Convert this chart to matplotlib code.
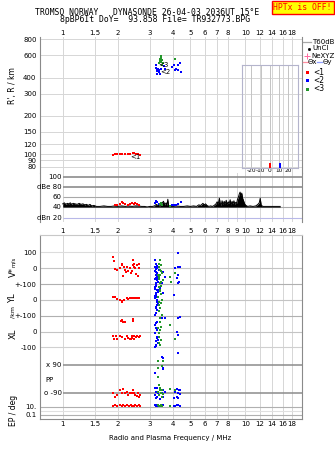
import matplotlib
matplotlib.use('Agg')
import matplotlib.pyplot as plt
import matplotlib.ticker as mticker
from matplotlib.lines import Line2D
from matplotlib.patches import Rectangle
import numpy as np

W, H = 335, 451

freq_ticks = [1, 1.5, 2, 3, 4, 5, 6, 7, 8, 10, 12, 14, 16, 18]
freq_ticks_mid = [1, 1.5, 2, 3, 4, 5, 6, 7, 8, 9, 10, 12, 14, 16, 18]
height_ticks = [800, 600, 400, 300, 200, 150, 120, 100, 90, 80]
dbe_ticks = [100, 80, 60, 40, 20]
dbe_labels = ['100', 'dBe 80', '60', '40', 'dBn 20']
tilt_ticks = [-20, -10, 0, 10, 20]

# echoes in the height panel: frequency (MHz) / virtual height (km)
red_f = [1.89, 1.93, 1.98, 2.05, 2.12, 2.18, 2.27, 2.34, 2.42, 2.47, 2.52, 2.58, 2.65]
red_h = [98, 100, 101, 100, 101, 100, 100, 101, 102, 103, 100, 101, 99]
green_f = [3.40, 3.43, 3.45, 3.42, 3.47, 3.50, 3.52, 3.48, 3.38, 4.10]
green_h = [560, 575, 590, 540, 530, 545, 520, 505, 520, 555]
blue_f = [3.22, 3.25, 3.27, 3.30, 3.33, 3.35, 3.38, 3.42, 3.45, 3.28,
          3.60, 3.65, 3.95, 4.05, 4.15, 4.25, 4.30, 4.40, 4.45, 4.10]
blue_h = [480, 500, 465, 450, 470, 440, 455, 430, 470, 430,
          490, 470, 485, 500, 470, 505, 455, 520, 440, 460]

# amplitude trace
amp_freq = [
    1.00, 1.02, 1.04, 1.06, 1.08, 1.10, 1.12, 1.14, 1.17, 1.20,
    1.23, 1.26, 1.29, 1.32, 1.35, 1.38, 1.41, 1.44, 1.48, 1.53,
    1.60, 1.68, 1.76, 1.84, 1.92, 2.00, 2.10, 2.20, 2.30, 2.40,
    2.50, 2.60, 2.70, 2.80, 2.90, 3.00, 3.10, 3.18, 3.25, 3.32,
    3.40, 3.48, 3.56, 3.62, 3.68, 3.72, 3.76, 3.80, 3.90, 4.05,
    4.20, 4.40, 4.60, 4.80, 5.00, 5.20, 5.40, 5.55, 5.70, 5.85,
    5.95, 6.05, 6.15, 6.30, 6.45, 6.60, 6.75, 6.90, 7.00, 7.10,
    7.20, 7.28, 7.36, 7.45, 7.55, 7.65, 7.75, 7.85, 7.95, 8.05,
    8.15, 8.25, 8.35, 8.45, 8.55, 8.65, 8.75, 8.85, 8.95, 9.05,
    9.15, 9.25, 9.35, 9.45, 9.55, 9.65, 9.75, 9.90, 10.05, 10.3,
    10.6, 11.0, 11.4, 11.7, 11.9, 12.05, 12.2, 12.5, 13.0, 13.5,
    14.0, 14.5, 15.0, 15.5]
amp_db = [
    47, 49, 46, 48, 47, 49, 46, 48, 47, 46,
    48, 46, 47, 45, 46, 44, 46, 43, 44, 42,
    42, 43, 42, 42, 43, 42, 43, 42, 43, 42,
    43, 43, 42, 42, 41, 42, 42, 43, 46, 44,
    43, 47, 52, 45, 49, 44, 56, 42, 42, 42,
    43, 42, 42, 43, 42, 43, 42, 45, 44, 48,
    45, 47, 44, 42, 43, 42, 44, 47, 51, 47,
    58, 48, 44, 53, 46, 52, 47, 54, 46, 51,
    48, 55, 45, 52, 47, 53, 46, 50, 48, 56,
    60, 66, 70, 63, 68, 58, 54, 47, 44, 42,
    43, 42, 43, 46, 49, 58, 44, 42, 42, 42,
    42, 42, 42, 42]
red_amp_f = [1.93, 1.98, 2.05, 2.10, 2.15, 2.20, 2.27, 2.33, 2.40, 2.45, 2.50, 2.56, 2.62]
red_amp = [45, 44, 47, 50, 48, 46, 45, 47, 49, 46, 48, 47, 45]
blue_amp_f = [3.20, 3.25, 3.30, 3.35, 3.95, 4.05, 4.15, 4.30, 4.45]
blue_amp = [48, 52, 50, 46, 44, 45, 45, 46, 50]
green_amp_f = [3.40, 3.45, 3.48, 3.85]
green_amp = [46, 48, 44, 42]

# tilt histogram
tilt_x_deg = [0]
tilt_y_deg = [11]
tilt_count = [4.5]

# V* (m/s)
red_vs_f = [1.89, 1.90, 1.93, 1.98, 2.05, 2.10, 2.12, 2.14, 2.16, 2.18, 2.22, 2.26, 2.28,
            2.33, 2.36, 2.38, 2.41, 2.43, 2.44, 2.47, 2.50, 2.52, 2.54, 2.57, 2.60, 2.63]
red_vs = [70, 45, -5, -10, 0, 30, 20, -50, 10, -10, -25, 10, -15,
          0, -30, -15, 20, 50, 10, 30, 0, -35, 20, -50, 0, 25]
blue_vs_f = [4.30, 3.20, 3.27, 3.30, 3.25, 3.34, 3.56, 3.63, 3.49, 4.30, 4.12,
             4.39, 4.30, 4.21, 4.35, 4.25, 3.22, 3.28, 3.38, 3.24, 3.21, 3.31,
             3.21, 3.23, 3.26, 3.29, 3.22, 3.27, 3.31, 3.24, 3.35, 3.20]
blue_vs = [99, 10, 0, -32, -63, -85, -21, -53, -95, 10, 0,
           10, -42, -63, -85, -95, -40, -75, -10, 30, -20, -50,
           55, -5, -25, 15, -90, -55, -70, -100, -45, -70]
green_vs_f = [3.41, 3.41, 3.49, 3.38, 3.52, 3.45, 3.34, 3.87, 4.12, 3.90, 3.43, 3.47, 3.36,
              3.38, 3.42, 3.40, 3.36]
green_vs = [52, -11, -32, -53, -74, -84, -42, -53, -32, -84, 20, -20, -65,
            10, -40, -90, 30]

# YL (km)
red_yl_f = [1.89, 1.93, 1.98, 2.05, 2.10, 2.12, 2.16, 2.24, 2.28, 2.33, 2.38, 2.43, 2.47, 2.52, 2.57, 2.62]
red_yl = [21, 21, 4, 0, -5, -11, 0, 10, 4, 10, 15, 10, 10, 14, 14, 10]
blue_yl_f = [3.20, 3.27, 3.34, 3.25, 3.20, 3.30, 3.41, 3.56, 3.27, 3.20, 4.04, 3.22, 3.26, 3.30, 3.23, 3.49,
             3.21, 3.24, 3.28, 3.31, 3.22, 3.25, 3.20, 3.33]
blue_yl = [84, 63, 52, 31, 10, -11, 74, 42, -63, -95, 31, 45, 20, -30, -45, 0,
           70, 90, 0, -20, -50, -80, 25, 65]
green_yl_f = [3.41, 3.34, 3.49, 3.38, 3.41, 3.45, 3.38, 3.43, 3.36, 3.40, 3.44, 3.37]
green_yl = [63, 21, 0, -32, -53, 40, -10, 85, 80, 55, -20, -70]

# XL (km)
red_xl_f = [2.08, 2.12, 2.15, 2.18, 2.43, 2.43, 1.89, 1.92, 1.95, 1.98, 2.05, 2.12, 2.20,
            2.24, 2.28, 2.33, 2.36, 2.38, 2.40, 2.44, 2.47, 2.52, 2.55, 2.60, 2.64]
red_xl = [70, 75, 60, 62, 80, 65, -25, -45, -25, -45, -30, -35, -45,
          -30, -40, -45, -48, -30, -40, -25, -45, -35, -25, -35, -30]
blue_xl_f = [3.30, 3.49, 3.63, 4.39, 4.30, 3.20, 3.27, 3.34, 3.25, 4.21, 4.30, 3.20,
             3.34, 3.22, 4.30, 3.49, 3.56, 3.21, 3.24, 3.28, 3.22, 3.26, 3.30]
blue_xl = [63, 84, 84, 94, 84, -11, -32, -53, -85, 0, -21, -95,
           -74, 20, -133, -158, -169, 40, 55, -40, -60, -90, 10]
green_xl_f = [3.49, 3.41, 3.34, 3.41, 3.38, 3.45, 4.12, 3.87, 3.36, 3.39, 3.43, 3.37, 3.41]
green_xl = [105, 84, 21, 10, -32, -53, -48, 42, -70, 60, 30, -10, -85]

# PP (deg)
red_pp_f = [1.89, 1.93, 1.98, 2.05, 2.10, 2.14, 2.18, 2.24, 2.28, 2.33, 2.38, 2.43, 2.47,
            2.50, 2.55, 2.57, 2.62, 2.65]
red_pp = [-90, -111, -100, -70, -86, -64, -90, -79, -100, -90, -86, -70, -90,
          -100, -107, -90, -111, -100]
blue_pp_f = [3.53, 3.20, 3.56, 3.20, 3.27, 3.41, 3.56, 3.25, 3.34, 3.49, 3.20, 3.30, 3.56,
             3.25, 3.41, 3.63, 4.21, 4.35, 4.12, 4.30, 4.39, 4.21, 4.30, 4.04, 4.39]
blue_pp = [62, 37, 68, -54, -58, -64, -69, -79, -86, -90, -100, -111, -111,
           -121, -128, -79, -64, -69, -79, -90, -94, -111, -121, -121, -69]
green_pp_f = [3.34, 3.53, 3.49, 3.34, 3.34, 3.38, 3.41, 3.49, 3.34, 3.45, 3.53, 3.38,
              3.49, 3.41, 3.87, 4.12]
green_pp = [116, 116, 83, 68, 15, -37, -58, -69, -79, -90, -94, -100,
            -111, -72, -64, -69]

# EP (deg)
red_ep_f = [1.89, 1.93, 1.98, 2.05, 2.10, 2.15, 2.20, 2.26, 2.30, 2.35, 2.40, 2.45, 2.50, 2.55, 2.60, 2.65]
red_ep = [16, 20, 16, 18, 16, 20, 16, 18, 16, 20, 17, 16, 20, 16, 18, 16]
blue_ep_f = [3.20, 3.25, 3.30, 3.34, 3.49, 3.56, 4.04, 4.12, 4.21, 4.30, 4.39]
blue_ep = [18, 15, 18, 16, 15, 18, 15, 16, 18, 18, 16]
green_ep_f = [3.34, 3.38, 3.41, 3.45, 3.49, 3.87]
green_ep = [18, 15, 16, 18, 15, 16]

RED = '#ff0000'
BLUE = '#0000ff'
GREEN = '#22962a'
GRID = '#d6d6d6'
SPINE = '#8a8a8a'
F_LIM = (0.751, 20.4)


def box(x0, y0, x1, y1):
    return [x0 / W, 1 - y1 / H, (x1 - x0) / W, (y1 - y0) / H]


def fx(x):
    return x / W


def fy(y):
    return 1 - y / H


# stacked lower panel: each quantity gets its own band of the same axis
def yl_pos(v):
    return np.asarray(v) - 200


def xl_pos(v):
    return np.asarray(v) - 400


def pp_pos(v):
    return np.asarray(v) - 700


def ep_pos(v):
    return -900 + 26.5 * np.log10(np.asarray(v, dtype=float))


def freq_axis(ax, ticks):
    ax.set_xscale('log')
    ax.set_xlim(*F_LIM)
    ax.set_xticks(ticks)
    ax.set_xticklabels(['%g' % t for t in ticks])
    ax.xaxis.set_minor_locator(mticker.NullLocator())
    ax.grid(axis='x', color=GRID, lw=0.7)
    ax.set_axisbelow(True)
    for s in ax.spines.values():
        s.set_color(SPINE)
        s.set_linewidth(0.8)


def dots(ax, x, y, color):
    ax.scatter(x, y, s=4.5, marker='s', color=color, linewidths=0, zorder=3)


fig = plt.figure(figsize=(W / 100, H / 100), dpi=100)
plt.rcParams['font.family'] = ['DejaVu Sans']

# ---- virtual height panel
ax1 = fig.add_axes(box(40, 37, 302, 173))
freq_axis(ax1, freq_ticks)
ax1.set_yscale('log')
ax1.set_ylim(71.4, 833)
ax1.set_yticks(height_ticks)
ax1.set_yticklabels([str(h) for h in height_ticks])
ax1.yaxis.set_minor_locator(mticker.NullLocator())
ax1.grid(axis='y', color=GRID, lw=0.7)
ax1.xaxis.tick_top()
ax1.tick_params(axis='x', length=0, pad=1, labelsize=5)
ax1.tick_params(axis='y', length=0, pad=2.5, labelsize=5)
ax1.spines['top'].set_visible(False)
ax1.spines['bottom'].set_visible(False)
dots(ax1, red_f, red_h, RED)
dots(ax1, blue_f, blue_h, BLUE)
dots(ax1, green_f, green_h, GREEN)
ax1.text(2.5, 95, '<1', fontsize=5, ha='center', va='center', zorder=4)
ax1.text(3.55, 500, '<3', fontsize=5, ha='center', va='center', zorder=4)
ax1.text(3.65, 445, '<2', fontsize=5, ha='center', va='center', zorder=4)

# tilt inset
axt = fig.add_axes(box(241.7, 65, 297.7, 167.7))
axt.patch.set_alpha(0)
axt.set_xlim(-30.6, 30.6)
axt.set_ylim(0, 100)
axt.set_xticks(tilt_ticks)
axt.set_xticklabels(['-20', '-10', '0', '10', '20'])
axt.set_yticks([])
axt.grid(axis='x', color='#c4c4c4', lw=0.7)
axt.tick_params(axis='x', length=0, pad=0.5, labelsize=4.2)
for s in axt.spines.values():
    s.set_color('#b4b4cc')
    s.set_linewidth(0.8)
axt.bar(tilt_x_deg, tilt_count, width=2, color=RED, bottom=0, zorder=3)
axt.bar(tilt_y_deg, tilt_count, width=2, color=BLUE, bottom=0, zorder=3)
axt.set_xlabel('Tilt / deg', fontsize=4.2, labelpad=0)

# ---- amplitude panel
ax2 = fig.add_axes(box(40, 173, 302, 222))
freq_axis(ax2, freq_ticks_mid)
ax2.set_ylim(11.6, 107.2)
ax2.set_yticks([])
ax2.tick_params(axis='x', length=0, pad=4, labelsize=5)
ax2.spines['top'].set_visible(False)
ax2.spines['bottom'].set_visible(False)
for lev, lab, col, lw in zip(dbe_ticks, dbe_labels,
                             ['#8c8c8c', '#8c8c8c', '#a8a8a8', '#a8a8a8', '#b8b8e8'],
                             [1.2, 1.2, 0.8, 0.8, 0.8]):
    ax2.hlines(lev, 1.0, F_LIM[1], color=col, lw=lw, zorder=1)
    ax2.text(0.985, lev, lab, fontsize=5, ha='right', va='center')
ax2.fill_between(amp_freq, 40.8, amp_db, color='black', lw=0, zorder=2)
ax2.plot(amp_freq, amp_db, color='black', lw=0.7, zorder=2)
dots(ax2, red_amp_f, red_amp, RED)
dots(ax2, blue_amp_f, blue_amp, BLUE)
dots(ax2, green_amp_f, green_amp, GREEN)

# ---- lower panel (V*, YL, XL, PP, EP)
ax3 = fig.add_axes(box(40, 235, 302, 419))
freq_axis(ax3, freq_ticks)
ax3.set_ylim(-952, 210)
ax3.spines['top'].set_color('#c8c8c8')
ax3.tick_params(axis='x', length=0, pad=1.8, labelsize=5)
ax3.tick_params(axis='y', length=0, pad=2.5, labelsize=5)
ax3.set_yticks([100, 0, -100, -200, -300, -400, -500,
                float(ep_pos(10)), float(ep_pos(0.1))])
ax3.set_yticklabels(['100', '0', '+-100', '0', '+-100', '0', '-100', '10.', '0.1'])
for lev, col in [(100, '#dcdcdc'), (0, '#c4c4c4'), (-100, '#b0b0b0'),
                 (-200, '#c4c4c4'), (-300, '#b0b0b0'), (-400, '#c4c4c4'),
                 (-500, '#d0d0d0'), (float(ep_pos(10)), '#b0b0b0'),
                 (float(ep_pos(1)), '#e0e0e0'), (float(ep_pos(0.1)), '#b0b0b0')]:
    ax3.axhline(lev, color=col, lw=0.8, zorder=1)
for lev in [90, -90]:
    ax3.hlines(float(pp_pos(lev)), 1.0, F_LIM[1], color='#8c8c8c', lw=1.1, zorder=1)

dots(ax3, red_vs_f, red_vs, RED)
dots(ax3, blue_vs_f, blue_vs, BLUE)
dots(ax3, green_vs_f, green_vs, GREEN)
dots(ax3, red_yl_f, yl_pos(red_yl), RED)
dots(ax3, blue_yl_f, yl_pos(blue_yl), BLUE)
dots(ax3, green_yl_f, yl_pos(green_yl), GREEN)
dots(ax3, red_xl_f, xl_pos(red_xl), RED)
dots(ax3, blue_xl_f, xl_pos(blue_xl), BLUE)
dots(ax3, green_xl_f, xl_pos(green_xl), GREEN)
dots(ax3, red_pp_f, pp_pos(red_pp), RED)
dots(ax3, blue_pp_f, pp_pos(blue_pp), BLUE)
dots(ax3, green_pp_f, pp_pos(green_pp), GREEN)
dots(ax3, red_ep_f, ep_pos(red_ep), RED)
dots(ax3, blue_ep_f, ep_pos(blue_ep), BLUE)
dots(ax3, green_ep_f, ep_pos(green_ep), GREEN)

ax3.text(0.985, float(pp_pos(90)), 'x 90', fontsize=5, ha='right', va='center')
ax3.text(0.985, float(pp_pos(-90)), 'o -90', fontsize=5, ha='right', va='center')
ax3.text(0.80, float(pp_pos(0)) - 8, 'PP', fontsize=5, ha='left', va='center')

# ---- axis titles
fig.text(fx(13), fy(86), "R', R / km", rotation=90, fontsize=5.5, ha='center', va='center')
fig.text(fx(13), fy(272), 'V*', rotation=90, fontsize=6, ha='center', va='center')
fig.text(fx(13), fy(262), 'm/s', rotation=90, fontsize=4, ha='center', va='center')
fig.text(fx(13), fy(298), 'YL', rotation=90, fontsize=6, ha='center', va='center')
fig.text(fx(13), fy(312), '/km', rotation=90, fontsize=4.5, ha='center', va='center')
fig.text(fx(13), fy(334), 'XL', rotation=90, fontsize=6, ha='center', va='center')
fig.text(fx(13), fy(410), 'EP / deg', rotation=90, fontsize=5.5, ha='center', va='center')
fig.text(fx(170.5), fy(438), 'Radio and Plasma Frequency / MHz', fontsize=5,
         ha='center', va='center')

# ---- header
fig.text(fx(35), fy(12.3), 'TROMSO NORWAY   DYNASONDE 26-04-03 2036UT 15\u00b0E',
         family='DejaVu Sans Mono', fontsize=5.9, ha='left', va='center')
fig.text(fx(60), fy(20), '8pBP6It DoY=  93.858 File= TR932773.BPG',
         family='DejaVu Sans Mono', fontsize=5.9, ha='left', va='center')
fig.add_artist(Rectangle((fx(271.5), fy(13.5)), 62 / W, 12 / H, transform=fig.transFigure,
                         facecolor='#ffff00', edgecolor=RED, lw=1))
fig.text(fx(302.5), fy(7.6), 'HPTx is OFF!', family='DejaVu Sans Mono', fontsize=5.9,
         color=RED, ha='center', va='center')


# ---- legend on the right
def leg_line(x0, x1, y, color):
    fig.add_artist(Line2D([fx(x0), fx(x1)], [fy(y), fy(y)], color=color, lw=0.9,
                          transform=fig.transFigure))


leg_line(303, 311, 41.5, '#a8a8a8')
fig.text(fx(312.5), fy(41.5), 'T60dB', fontsize=5, va='center')
fig.add_artist(Line2D([fx(308.5)], [fy(48.5)], marker='s', ms=1, color='black', lw=0,
                      transform=fig.transFigure))
fig.text(fx(312.5), fy(48.5), 'UnCl', fontsize=5, va='center')
fig.add_artist(Line2D([fx(307)], [fy(55.5)], marker='+', ms=4, mew=0.7, color='#ff6aa0',
                      lw=0, transform=fig.transFigure))
fig.text(fx(311), fy(55.5), 'NeXYZ', fontsize=5, va='center')
leg_line(302.5, 307.5, 62.3, '#ff8fa0')
fig.text(fx(308), fy(62.3), '\u0398x', fontsize=5, va='center')
leg_line(317, 322, 62.3, '#8f9fff')
fig.text(fx(322.5), fy(62.3), '\u0398y', fontsize=5, va='center')
for yy, col, lab in [(72.8, RED, '<1'), (80.7, BLUE, '<2'), (89, GREEN, '<3')]:
    fig.add_artist(Rectangle((fx(306), fy(yy + 1.5)), 3 / W, 3 / H, transform=fig.transFigure,
                             facecolor=col, edgecolor='none'))
    fig.text(fx(313.5), fy(yy), lab, fontsize=5.5, va='center')

fig.savefig('out.png', dpi=100, facecolor='white')
